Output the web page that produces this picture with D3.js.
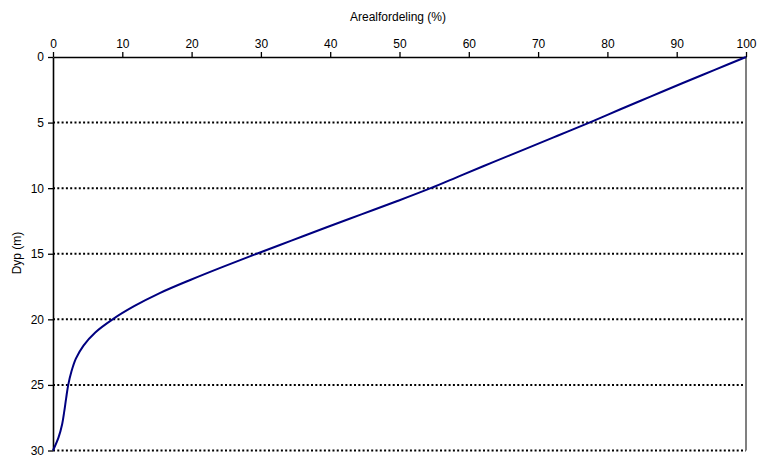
<!DOCTYPE html>
<html><head><meta charset="utf-8">
<script src="https://cdn.jsdelivr.net/npm/d3@7"></script>
<style>body{margin:0;background:#fff}svg{display:block}text{font-family:"Liberation Sans",Arial,sans-serif}</style>
</head><body><svg id="c" width="759" height="455"></svg>
<script>
const depths = [0,1,2,3,4,5,6,7,8,9,10,11,12,13,14,15,16,17,18,19,20,21,22,23,24,25,26,27,28,29,30];
const areal  = [100,95.4,90.8,86.3,81.8,77.4,72.8,68.2,63.6,59.0,54.5,49.6,44.5,39.4,34.4,29.4,24.5,19.8,15.4,11.7,8.6,6.1,4.4,3.3,2.65,2.2,1.9,1.63,1.32,0.8,0];
const xTicks = [0,10,20,30,40,50,60,70,80,90,100];
const yTicks = [0,5,10,15,20,25,30];
const xTitle = "Arealfordeling (%)";
const yTitle = "Dyp (m)";

const svg = d3.select("#c");
const L=53,R=746,T=57,B=450.5;
const x = d3.scaleLinear().domain([0,100]).range([L,R]);
const y = d3.scaleLinear().domain([0,30]).range([T,B]);

svg.append("g").selectAll("line").data(yTicks.filter(d=>d>0)).join("line")
  .attr("x1",L).attr("x2",R).attr("y1",d=>y(d)).attr("y2",d=>y(d))
  .attr("stroke","#000").attr("stroke-width",2).attr("stroke-dasharray","2,2.3");
svg.append("line").attr("x1",R).attr("x2",R).attr("y1",T).attr("y2",B)
  .attr("stroke","#808080").attr("stroke-width",2);

const xa = svg.append("g").attr("transform",`translate(0,${T})`)
  .call(d3.axisTop(x).tickValues(xTicks).tickSize(5).tickPadding(4).tickSizeOuter(0));
const ya = svg.append("g").attr("transform",`translate(${L},0)`)
  .call(d3.axisLeft(y).tickValues(yTicks).tickSize(5).tickPadding(4).tickSizeOuter(0));
[xa,ya].forEach(a=>{
  a.selectAll("text").attr("font-size",12).attr("fill","#000").style("font-family","'Liberation Sans',Arial,sans-serif");
  a.selectAll("line").attr("stroke","#000").attr("stroke-width",1.3);
  a.select(".domain").attr("stroke","#000").attr("stroke-width",1.6);
});

const line = d3.line().x((d,i)=>x(areal[i])).y(d=>y(d)).curve(d3.curveCatmullRom.alpha(0.5));
svg.append("path").datum(depths).attr("d",line).attr("fill","none")
  .attr("stroke","#000080").attr("stroke-width",2);

svg.append("text").attr("x",398).attr("y",21).attr("text-anchor","middle")
  .attr("font-size",12).text(xTitle);
svg.append("text").attr("transform","translate(21,253) rotate(-90)").attr("text-anchor","middle")
  .attr("font-size",12).text(yTitle);
</script></body></html>
